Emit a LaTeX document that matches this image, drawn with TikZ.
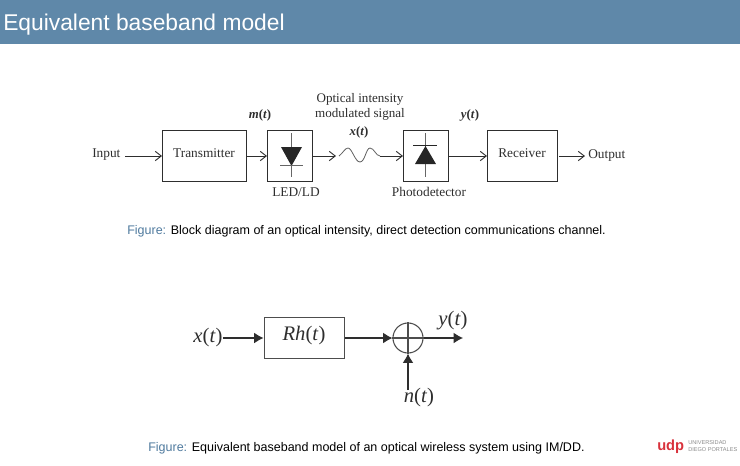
\documentclass[tikz,border=0pt]{standalone}
\usepackage{fontspec}
\setmainfont{Liberation Serif}
\setsansfont{Liberation Sans}
\usetikzlibrary{arrows.meta}
\definecolor{bar}{HTML}{5F88A9}
\definecolor{capblue}{HTML}{4F7A9E}
\definecolor{ink}{HTML}{2E2E2E}
\definecolor{logored}{HTML}{D8323C}
\definecolor{logogray}{HTML}{8A8A8A}
\tikzset{
  blockbox/.style={draw=ink,line width=0.75pt,minimum height=38.25pt,inner sep=0pt,anchor=west},
  upper/.style={font=\fontsize{9.6}{11.25}\selectfont,text=ink,inner sep=0pt,align=center},
  lab/.style={font=\fontsize{10}{12}\selectfont,text=ink,inner sep=0pt},
  conn/.style={draw=ink,line width=0.7pt,-{Straight Barb[length=4.5pt,width=7pt]}},
  bigconn/.style={draw=ink,line width=0.8pt,-{Latex[length=7pt,width=8pt]}},
  mathlab/.style={font=\fontsize{15.5}{18}\selectfont,text=ink,inner sep=0pt},
  captxt/.style={font=\sffamily\fontsize{9.38}{11}\selectfont,text=black,inner sep=0pt,anchor=base west},
  diodeline/.style={draw=gray!80!black,line width=0.7pt},
}
\begin{document}
\begin{tikzpicture}[x=0.75pt,y=-0.75pt]
\useasboundingbox (0,0) rectangle (740,465);
\fill[bar] (0,0) rectangle (740,44);
\node[font=\sffamily\fontsize{17.1}{20}\selectfont,text=white,inner sep=0pt,anchor=base west] (title) at (3,30) {Equivalent baseband model};

% upper diagram
\node[lab,anchor=west] (input) at (92,155) {Input};
\node[blockbox,minimum width=63pt] (tx) at (162,156) {};
\node[lab] at (204,153.5) {Transmitter};
\node[blockbox,minimum width=33.75pt] (led) at (267,156) {};
\node[blockbox,minimum width=33.75pt] (pd) at (403,156) {};
\node[blockbox,minimum width=52.5pt] (rx) at (487,156) {};
\node[lab] at (522,153.5) {Receiver};
\node[lab,anchor=west] (output) at (588,156) {Output};
\node[lab] (ledlab) at (296,192) {LED/LD};
\node[lab] (pdlab) at (429,192) {Photodetector};
\node[upper,font=\fontsize{9.6}{11.25}\selectfont\bfseries] (mt) at (260,115) {\textit{m}(\textit{t})};
\node[upper,font=\fontsize{9.8}{11.25}\selectfont] (ois) at (360,106.5) {Optical intensity\\modulated signal};
\node[upper,font=\fontsize{9.6}{11.25}\selectfont\bfseries] (xt) at (359,132) {\textit{x}(\textit{t})};
\node[upper,font=\fontsize{9.6}{11.25}\selectfont\bfseries] (yt) at (470,115) {\textit{y}(\textit{t})};

\coordinate (inputstart) at (125,156);
\coordinate (ledend) at (336,156);
\coordinate (wavestart) at (339,156);
\coordinate (waveend) at (380,156);
\coordinate (rxout) at (559,156);
\coordinate (outend) at (585,156);
\draw[conn] (inputstart) -- (tx.west);
\draw[conn] (tx.east) -- (led.west);
\draw[conn] (led.east) -- (ledend);
\draw[draw=ink!75,line width=0.6pt] (wavestart) .. controls (343,153) and (345,148) .. (348,148)
  .. controls (352,148) and (355,162) .. (360,162)
  .. controls (365,162) and (366,148) .. (370,148)
  .. controls (374,148) and (376,156) .. (380,156);
\draw[conn] (waveend) -- (pd.west);
\draw[conn] (pd.east) -- (rx.west);
\draw[conn] (rxout) -- (outend);

% diodes
\draw[diodeline] (291,133) -- (291,177);
\fill[black!85] (281,147) -- (302,147) -- (291.5,166) -- cycle;
\draw[diodeline] (280,165.5) -- (303,165.5);
\draw[diodeline] (425,133) -- (425,177);
\fill[black!85] (415,164) -- (436,164) -- (425.5,146) -- cycle;
\draw[draw=black!85,line width=0.7pt] (413,145.5) -- (437,145.5);

\node[captxt] (cap1) at (127,234) {\textcolor{capblue}{Figure:} Block diagram of an optical intensity, direct detection communications channel.};

% lower diagram
\node[mathlab] (x) at (208,338) {\textit{x}(\textit{t})};
\node[blockbox,draw=ink!85,line width=0.9pt,minimum width=60pt,minimum height=31pt] (rh) at (263.5,338) {};
\node[mathlab] at (304,335.5) {\textit{Rh}(\textit{t})};
\node[circle,draw=ink!85,line width=0.8pt,minimum size=22.5pt,inner sep=0pt] (sum) at (408,338) {};
\draw[draw=ink!85,line width=0.8pt] (sum.north) -- (sum.south) (sum.west) -- (sum.east);
\coordinate (yend) at (463,338);
\node[mathlab] (y) at (453,321) {\textit{y}(\textit{t})};
\node[mathlab] (n) at (419,398) {\textit{n}(\textit{t})};
\coordinate (nstart) at (408,390);
\draw[bigconn] (x.east) -- (rh.west);
\draw[bigconn] (rh.east) -- (sum.west);
\draw[bigconn] (sum.east) -- (yend);
\draw[bigconn] (nstart) -- (sum.south);

\node[captxt] (cap2) at (148,451) {\textcolor{capblue}{Figure:} Equivalent baseband model of an optical wireless system using IM/DD.};

% logo
\node[font=\sffamily\bfseries\fontsize{11}{12}\selectfont,text=logored,inner sep=0pt,anchor=base west] (udp) at (657,450) {udp};
\node[font=\sffamily\fontsize{4.2}{5.6}\selectfont,text=logogray,inner sep=0pt,anchor=west,align=left] (univ) at (688,446) {UNIVERSIDAD\\DIEGO PORTALES};
\end{tikzpicture}
\end{document}
